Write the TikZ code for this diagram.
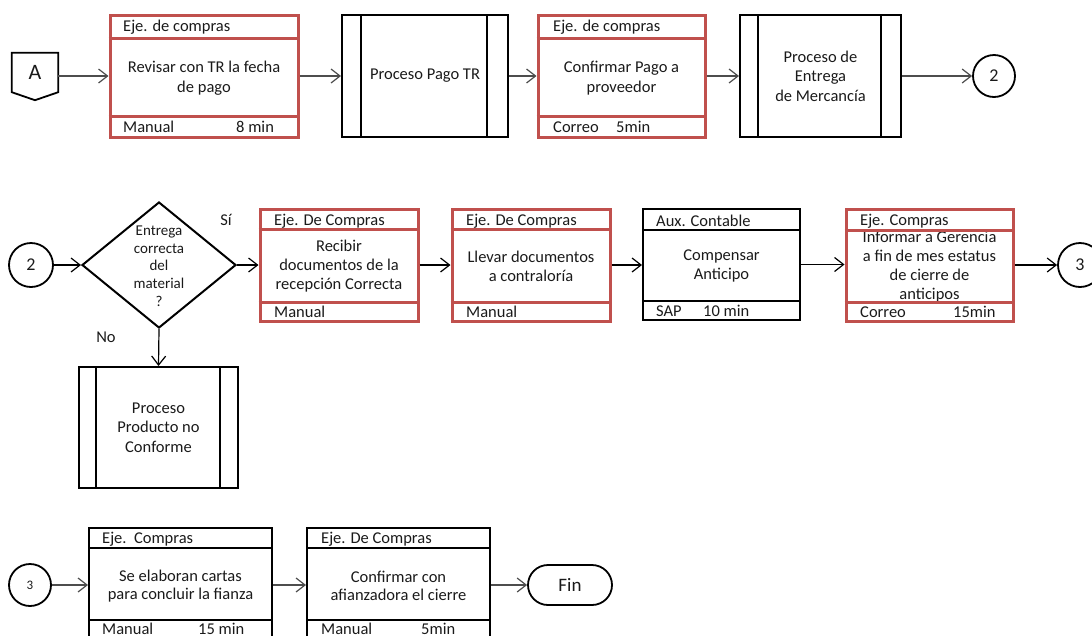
\documentclass[tikz,border=0pt]{standalone}
\usepackage{fontspec}
\setmainfont{Carlito}
\usetikzlibrary{arrows.meta,shapes.geometric}
\definecolor{boxred}{HTML}{C0504D}
\definecolor{txt}{HTML}{1A1A1A}
\definecolor{linegray}{HTML}{4D4D4D}

\begin{document}
\begin{tikzpicture}[x=1pt,y=-1pt,
  every node/.style={font=\fontsize{16.5}{19.5}\selectfont, text=txt, inner sep=0pt},
  redbox/.style={draw=boxred, line width=3pt, rectangle},
  reddiv/.style={draw=boxred, line width=3pt},
  blkbox/.style={draw=black, line width=2pt, rectangle},
  blkdiv/.style={draw=black, line width=1.8pt},
  procbox/.style={draw=black, line width=2pt, rectangle, align=center},
  procline/.style={draw=black, line width=1.2pt},
  lbl/.style={anchor=west},
  body/.style={align=center},
  circ/.style={draw=black, line width=1.8pt, circle, font=\fontsize{18}{20}\selectfont},
  conn/.style={draw=linegray, line width=1.2pt, -{Straight Barb[length=9pt,width=14pt]}},
  connk/.style={conn, draw=black},
]
\useasboundingbox (0,0) rectangle (1092,635);
\clip (0,0) rectangle (1092,635);

% ---------------- first row ----------------
\node[minimum width=46, minimum height=39, font=\fontsize{22}{24}\selectfont] (A) at (35,72.5) {A};
\draw[line width=1.8pt] (A.north west) -- (A.north east) -- (A.south east)
  -- ([yshift=-8pt]A.south) -- (A.south west) -- cycle;

\node[redbox, minimum width=188, minimum height=122] (b1) at (204,76) {};
\node[body] (b1t) at (204,78) {Revisar con TR la fecha\\de pago};
\draw[reddiv] (b1.west |- 0,38) -- (b1.east |- 0,38);
\draw[reddiv] (b1.west |- 0,116) -- (b1.east |- 0,116);
\node[lbl] (b1h) at (123,27) {Eje. de compras};
\node[lbl] (b1f) at (123,127) {Manual};
\node[lbl] (b1m) at (236,127) {8 min};

\node[procbox, minimum width=166, minimum height=122] (p1) at (425,76) {Proceso Pago TR};
\draw[procline] ([xshift=20pt]p1.north west) -- ([xshift=20pt]p1.south west);
\draw[procline] ([xshift=-22pt]p1.north east) -- ([xshift=-22pt]p1.south east);

\node[redbox, minimum width=167, minimum height=122] (b2) at (621.5,76) {};
\node[body] (b2t) at (621.5,78) {Confirmar Pago a\\proveedor};
\draw[reddiv] (b2.west |- 0,38) -- (b2.east |- 0,38);
\draw[reddiv] (b2.west |- 0,116) -- (b2.east |- 0,116);
\node[lbl] (b2h) at (553,27) {Eje. de compras};
\node[lbl] (b2f) at (553,127) {Correo};
\node[lbl] (b2m) at (616,127) {5min};

\node[procbox, minimum width=161, minimum height=122] (p2) at (820.5,76) {Proceso de\\Entrega\\de Mercancía};
\draw[procline] ([xshift=19pt]p2.north west) -- ([xshift=19pt]p2.south west);
\draw[procline] ([xshift=-21pt]p2.north east) -- ([xshift=-21pt]p2.south east);

\node[circ, minimum size=42] (c2a) at (994,76) {2};

\draw[conn] (A.east |- b1.west) -- (b1.west);
\draw[conn] (b1.east) -- (p1.west);
\draw[conn] (p1.east) -- (b2.west);
\draw[conn] (b2.east) -- (p2.west);
\draw[conn] (p2.east) -- (c2a.west);

% ---------------- second row ----------------
\node[circ, minimum size=44] (c2b) at (31,265) {2};

\node[draw=black, line width=2pt, diamond, minimum width=154, minimum height=126] (d) at (159,265) {};
\node[align=center, font=\fontsize{15}{17.7}\selectfont] (dt) at (159,266) {Entrega\\correcta\\del\\material\\?};
\node (si) at (226,220) {Sí};
\node (no) at (106,337) {No};

\node[redbox, minimum width=158, minimum height=112] (b3) at (339,265) {};
\node[body, font=\fontsize{16.5}{19}\selectfont] (b3t) at (339,266) {Recibir\\documentos de la\\recepción Correcta};
\draw[reddiv] (b3.west |- 0,229.5) -- (b3.east |- 0,229.5);
\draw[reddiv] (b3.west |- 0,302) -- (b3.east |- 0,302);
\node[lbl] (b3h) at (274,221) {Eje. De Compras};
\node[lbl] (b3f) at (274,312) {Manual};

\node[redbox, minimum width=158, minimum height=112] (b4) at (531,265) {};
\node[body, font=\fontsize{16.5}{19}\selectfont] (b4t) at (531,266) {Llevar documentos\\a contraloría};
\draw[reddiv] (b4.west |- 0,229.5) -- (b4.east |- 0,229.5);
\draw[reddiv] (b4.west |- 0,302) -- (b4.east |- 0,302);
\node[lbl] (b4h) at (466,221) {Eje. De Compras};
\node[lbl] (b4f) at (466,312) {Manual};

\node[blkbox, minimum width=157, minimum height=111] (b5) at (721.5,264.5) {};
\node[body, font=\fontsize{16.5}{19}\selectfont] (b5t) at (721.5,266) {Compensar\\Anticipo};
\draw[blkdiv] (b5.west |- 0,230) -- (b5.east |- 0,230);
\draw[blkdiv] (b5.west |- 0,301) -- (b5.east |- 0,301);
\node[lbl] (b5h) at (656,221) {Aux. Contable};
\node[lbl] (b5f) at (656,311) {SAP};
\node[lbl] (b5m) at (703,311) {10 min};

\node[redbox, minimum width=167, minimum height=112] (b6) at (929.5,265) {};
\node[body, font=\fontsize{16.5}{19}\selectfont] (b6t) at (929.5,266.5) {Informar a Gerencia\\a fin de mes estatus\\de cierre de\\anticipos};
\draw[reddiv] (b6.west |- 0,230) -- (b6.east |- 0,230);
\draw[reddiv] (b6.west |- 0,302) -- (b6.east |- 0,302);
\node[lbl] (b6h) at (860,221) {Eje. Compras};
\node[lbl] (b6f) at (860,312) {Correo};
\node[lbl] (b6m) at (953,312) {15min};

\node[circ, minimum size=44] (c3a) at (1080,265) {3};

\node[procbox, minimum width=159, minimum height=121] (p3) at (158.5,427.5) {Proceso\\Producto no\\Conforme};
\draw[procline] ([xshift=18pt]p3.north west) -- ([xshift=18pt]p3.south west);
\draw[procline] ([xshift=-19pt]p3.north east) -- ([xshift=-19pt]p3.south east);

\draw[connk] (c2b.east) -- (c2b.east -| d.west);
\draw[connk] (d.east) -- (d.east -| b3.west);
\draw[connk] (b3.east) -- (b4.west);
\draw[connk] (b4.east) -- (b4.east -| b5.west);
\draw[connk] (b5.east) -- (b5.east -| b6.west);
\draw[connk] (b6.east) -- (c3a.west);
\draw[connk] (d.south) -- (p3.north);

% ---------------- third row (runs off the lower edge) ----------------
\node[circ, minimum size=42, font=\fontsize{13}{15}\selectfont] (c3b) at (30,585) {3};

\node[blkbox, minimum width=183, minimum height=120] (b7) at (180.5,588) {};
\node[body, font=\fontsize{16.5}{18.5}\selectfont] (b7t) at (180.5,586) {Se elaboran cartas\\para concluir la fianza};
\draw[blkdiv] (b7.west |- 0,548) -- (b7.east |- 0,548);
\draw[blkdiv] (b7.west |- 0,620) -- (b7.east |- 0,620);
\node[lbl] (b7h) at (102,539) {Eje.\ \ Compras};
\node[lbl] (b7f) at (102,629) {Manual};
\node[lbl] (b7m) at (198,629) {15 min};

\node[blkbox, minimum width=183, minimum height=120] (b8) at (398.5,588) {};
\node[body, font=\fontsize{16.5}{18.5}\selectfont] (b8t) at (398.5,586) {Confirmar con\\afianzadora el cierre};
\draw[blkdiv] (b8.west |- 0,548) -- (b8.east |- 0,548);
\draw[blkdiv] (b8.west |- 0,620) -- (b8.east |- 0,620);
\node[lbl] (b8h) at (321,539) {Eje. De Compras};
\node[lbl] (b8f) at (321,629) {Manual};
\node[lbl] (b8m) at (421,629) {5min};

\node[draw=black, line width=1.8pt, rounded corners=20pt, minimum width=84, minimum height=40,
      font=\fontsize{19}{21}\selectfont] (fin) at (570,585) {Fin};

\draw[conn] (c3b.east) -- (c3b.east -| b7.west);
\draw[conn] (b7.east |- c3b.east) -- (b8.west |- c3b.east);
\draw[conn] (b8.east |- fin.west) -- (fin.west);

\end{tikzpicture}
\end{document}
